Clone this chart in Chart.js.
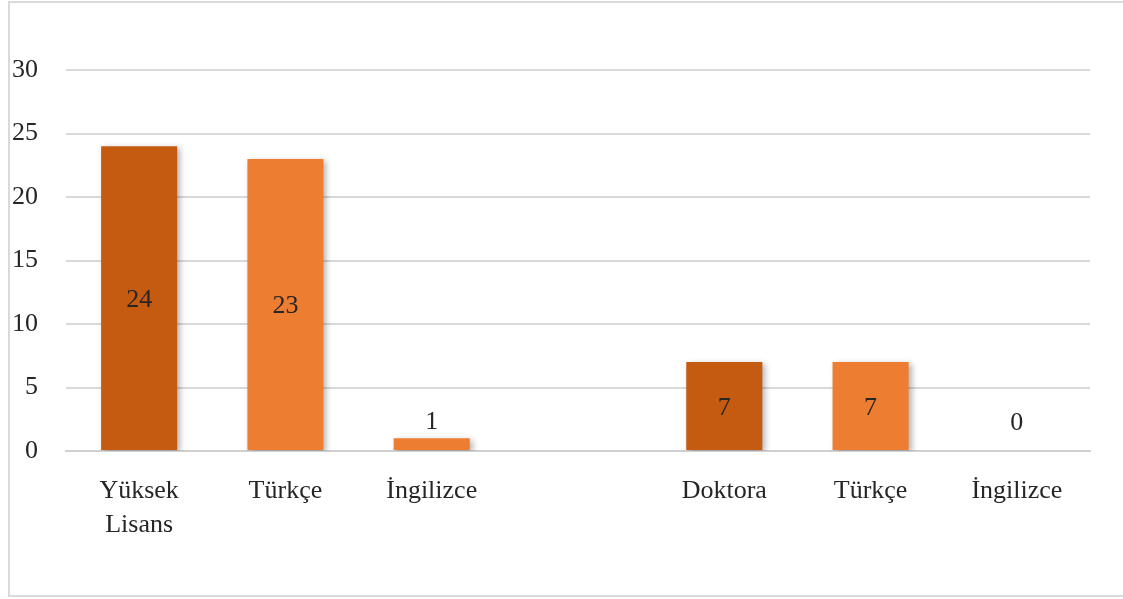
<!DOCTYPE html>
<html>
<head>
<meta charset="utf-8">
<script src="https://cdn.jsdelivr.net/npm/chart.js@4.4.1/dist/chart.umd.min.js"></script>
<style>
  html, body { margin: 0; padding: 0; background: #ffffff; overflow: hidden; }
  #wrap { position: absolute; left: 0; top: 0; width: 1123px; height: 599px; overflow: hidden; }
  #frame { position: absolute; left: 8px; top: 1px; width: 1130px; height: 596px; border: 2px solid #d9d9d9; box-sizing: border-box; }
  canvas { position: absolute; left: 0; top: 0; }
</style>
</head>
<body>
<div id="wrap">
  <div id="frame"></div>
  <canvas id="c" width="1123" height="599"></canvas>
</div>
<script>
const categories = [["Yüksek", "Lisans"], "Türkçe", "İngilizce", "", "Doktora", "Türkçe", "İngilizce"];
const values = [24, 23, 1, null, 7, 7, 0];
const barColors = ["#C55A11", "#ED7D31", "#ED7D31", "#ED7D31", "#C55A11", "#ED7D31", "#ED7D31"];
const yTicks = [0, 5, 10, 15, 20, 25, 30];

const FONT = "'Liberation Serif', 'Times New Roman', serif";
const TEXT = "#262626";

const barDecor = {
  id: "barDecor",
  beforeDatasetsDraw(chart) {
    const ctx = chart.ctx;
    ctx.save();
    ctx.shadowColor = "rgba(0,0,0,0.30)";
    ctx.shadowBlur = 6;
    ctx.shadowOffsetX = 3;
    ctx.shadowOffsetY = 2;
  },
  afterDatasetsDraw(chart) {
    const ctx = chart.ctx;
    ctx.restore();
    ctx.save();
    ctx.font = "26px " + FONT;
    ctx.fillStyle = TEXT;
    ctx.textAlign = "center";
    ctx.textBaseline = "middle";
    const meta = chart.getDatasetMeta(0);
    meta.data.forEach((bar, i) => {
      const v = values[i];
      if (v === null || v === undefined) return;
      const props = bar.getProps(["x", "y", "base"], true);
      const h = props.base - props.y;
      let y;
      if (h < 30) {
        y = props.base - 28;
      } else {
        y = (props.y + props.base) / 2 + 2;
      }
      ctx.fillText(String(v), props.x, y);
    });
    ctx.restore();
  }
};

new Chart(document.getElementById("c"), {
  type: "bar",
  data: {
    labels: categories,
    datasets: [{
      data: values,
      backgroundColor: barColors,
      borderWidth: 0,
      categoryPercentage: 1,
      barPercentage: 0.52
    }]
  },
  options: {
    responsive: false,
    animation: false,
    devicePixelRatio: 1,
    layout: { padding: { top: 70, right: 33, bottom: 0, left: 0 } },
    plugins: { legend: { display: false }, tooltip: { enabled: false } },
    scales: {
      x: {
        grid: { display: false },
        border: { display: true, color: "#d0d0d0", width: 2 },
        ticks: {
          color: TEXT,
          font: { family: FONT, size: 26, lineHeight: 1.3 },
          padding: 15,
          maxRotation: 0,
          autoSkip: false
        },
        afterFit(scale) { scale.height = 148; }
      },
      y: {
        min: 0,
        max: 30,
        afterBuildTicks(scale) { scale.ticks = yTicks.map(v => ({ value: v })); },
        grid: { color: "#d9d9d9", lineWidth: 2, drawTicks: false },
        border: { display: false },
        ticks: {
          color: TEXT,
          font: { family: FONT, size: 26 },
          padding: 28
        },
        afterFit(scale) { scale.width = 66; }
      }
    }
  },
  plugins: [barDecor]
});
</script>
</body>
</html>
